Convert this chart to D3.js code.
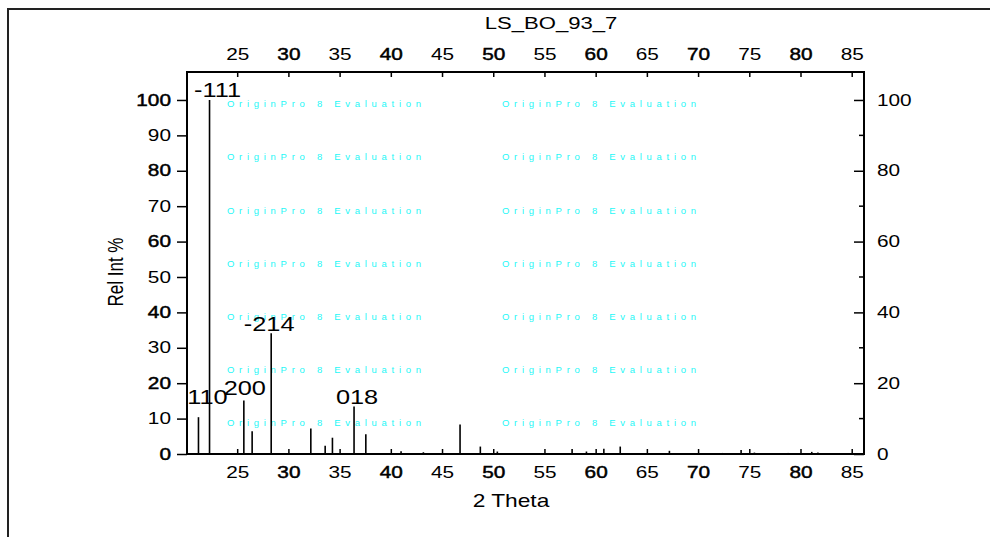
<!DOCTYPE html>
<html>
<head>
<meta charset="utf-8">
<script src="https://cdn.jsdelivr.net/npm/d3@7"></script>
<style>
  body { margin: 0; background: #fff; }
  text { font-family: "Liberation Sans", Arial, sans-serif; fill: #000; }
</style>
</head>
<body>
<div id="chart-area"></div>
<script>
// peak list (2 theta, rel int %)
const twoTheta = [21.22, 22.30, 25.65, 26.46, 28.32, 32.19, 33.59, 34.30, 36.41, 37.56,
                  41.0, 43.18, 46.76, 48.74, 50.4, 57.7, 59.1, 60.8, 62.4, 67.2,
                  72.4, 74.2, 75.5, 77.6, 78.8, 81.1, 81.7, 84.2];
const relInt   = [10.4, 100, 15.1, 6.4, 34.1, 7.2, 2.3, 4.6, 13.4, 5.6,
                  0.8, 0.5, 8.3, 2.1, 0.7, 1.4, 0.7, 1.5, 2.1, 0.9,
                  0.3, 1.1, 0.4, 0.2, 0.3, 0.6, 0.4, 0.2];
// hkl annotations: peak index + text
const hklPeak  = [0, 1, 2, 4, 8];
const hklText  = ["110", "-111", "200", "-214", "018"];
const xTicks = d3.range(25, 90, 5);
const yTicksLeft = d3.range(0, 110, 10);
const yTicksRight = d3.range(0, 120, 20);
const wmRows = [103, 156, 210, 263, 316, 369, 422]; // watermark rows (pixels)

const canvasWidth = 990, canvasHeight = 537;
const plot = {left: 187, right: 864, top: 72, bottom: 454};
const stretch = 1.3; // text in the reference is stretched horizontally

var svg = d3.select("#chart-area")
    .append("svg")
        .attr("width", canvasWidth)
        .attr("height", canvasHeight);

// outer frame (only top and left edges visible)
svg.append("path")
    .attr("d", "M8,537 L8,9 L990,9")
    .attr("fill", "none")
    .attr("stroke", "#222")
    .attr("stroke-width", 2);

var x = d3.scaleLinear().domain([20.1, 86.2]).range([plot.left, plot.right]);
var y = d3.scaleLinear().domain([0, 107.9]).range([plot.bottom, plot.top]);

function stretchText(sel, ax) {
    // scale horizontally around the text anchor
    sel.attr("transform", "translate(" + ax + ",0) scale(" + stretch + ",1) translate(" + (-ax) + ",0)");
}

// watermark
[227, 502].forEach(cx => {
    wmRows.forEach(ry => {
        svg.append("text")
            .attr("x", cx)
            .attr("y", ry + 3.5)
            .attr("font-size", "9.5px")
            .attr("textLength", 194)
            .attr("lengthAdjust", "spacing")
            .style("fill", "#1ef7f7")
            .text("OriginPro 8 Evaluation");
    });
});

// peaks
svg.append("g").selectAll("line")
    .data(twoTheta)
    .enter().append("line")
        .attr("x1", d => x(d))
        .attr("x2", d => x(d))
        .attr("y1", y(0))
        .attr("y2", (d, i) => y(relInt[i]))
        .attr("stroke", "#000")
        .attr("stroke-width", 1.6);

// axes  (some labels look slightly heavier in the original export)
var heavyTicks = [30, 40, 50, 60, 70, 80];
var xAxisBottom = svg.append("g")
    .attr("transform", "translate(0," + plot.bottom + ")")
    .call(d3.axisBottom(x).tickValues(xTicks).tickSizeInner(-5).tickSizeOuter(0).tickPadding(13));
var xAxisTop = svg.append("g")
    .attr("transform", "translate(0," + plot.top + ")")
    .call(d3.axisTop(x).tickValues(xTicks).tickSizeInner(-5).tickSizeOuter(0).tickPadding(12));
[xAxisBottom, xAxisTop].forEach(g => {
    g.selectAll("text")
        .attr("font-size", "16px")
        .attr("stroke", d => heavyTicks.includes(d) ? "#000" : "none")
        .attr("stroke-width", 0.45)
        .attr("transform", "scale(" + stretch + ",1)");
});

var yAxisLeft = svg.append("g")
    .attr("transform", "translate(" + plot.left + ",0)")
    .call(d3.axisLeft(y).tickValues(yTicksLeft).tickSize(10).tickSizeOuter(0).tickPadding(6));
yAxisLeft.selectAll("text")
    .attr("font-size", "16px")
    .attr("stroke", d => d % 20 == 0 ? "#000" : "none")
    .attr("stroke-width", 0.45)
    .attr("transform", "scale(" + stretch + ",1)")
    .attr("x", -16 / stretch);

var yAxisRight = svg.append("g")
    .attr("transform", "translate(" + plot.right + ",0)")
    .call(d3.axisRight(y).tickValues(yTicksRight).tickSizeInner(-10).tickSizeOuter(0).tickPadding(13));
yAxisRight.selectAll("text")
    .attr("font-size", "16px")
    .attr("transform", "scale(" + stretch + ",1)")
    .attr("x", 13 / stretch);
// right minor ticks
yAxisRight.selectAll(".minor")
    .data(d3.range(10, 110, 20))
    .enter().append("line")
        .attr("class", "minor")
        .attr("x1", -5).attr("x2", 0)
        .attr("y1", d => y(d)).attr("y2", d => y(d));

[xAxisBottom, xAxisTop, yAxisLeft, yAxisRight].forEach(g => {
    g.select(".domain").remove();
    g.selectAll("line").attr("stroke", "#000").attr("stroke-width", 1.5);
});

// plot frame
svg.append("rect")
    .attr("x", plot.left)
    .attr("y", plot.top)
    .attr("width", plot.right - plot.left)
    .attr("height", plot.bottom - plot.top)
    .attr("fill", "none")
    .attr("stroke", "#000")
    .attr("stroke-width", 2);

// hkl labels
var lblOffsets = {"110": [9, -13], "-111": [8, -3], "200": [1, -6], "-214": [-2, -2], "018": [3, -3]};
hklPeak.forEach((p, i) => {
    var t = hklText[i];
    var lx = x(twoTheta[p]) + lblOffsets[t][0];
    svg.append("text")
        .attr("x", lx)
        .attr("y", y(relInt[p]) + lblOffsets[t][1])
        .attr("font-size", "19.5px")
        .attr("text-anchor", "middle")
        .text(t)
        .call(stretchText, lx);
});

// title
svg.append("text")
    .attr("x", 551).attr("y", 29)
    .attr("font-size", "17px")
    .attr("text-anchor", "middle")
    .text("LS_BO_93_7")
    .call(stretchText, 551);

// X label
svg.append("text")
    .attr("x", 511).attr("y", 507)
    .attr("font-size", "17.5px")
    .attr("text-anchor", "middle")
    .text("2 Theta")
    .call(stretchText, 511);

// Y label
svg.append("text")
    .attr("transform", "translate(123,272) rotate(-90) scale(1," + stretch + ")")
    .attr("font-size", "17px")
    .attr("text-anchor", "middle")
    .text("Rel Int %");
</script>
</body>
</html>
